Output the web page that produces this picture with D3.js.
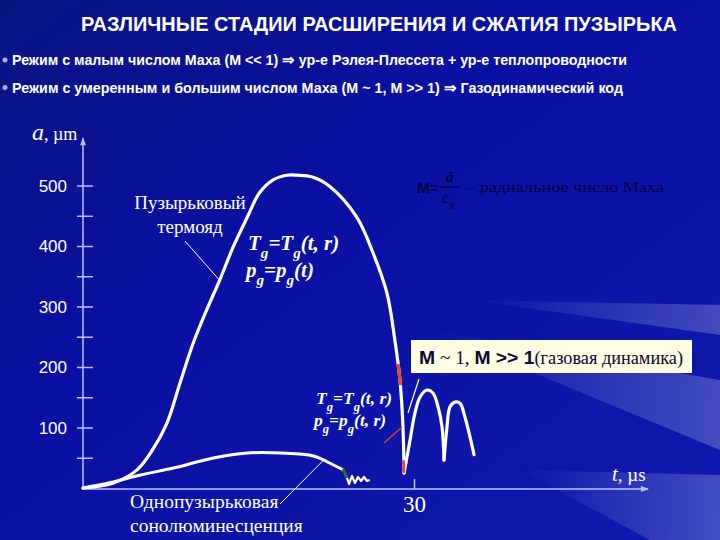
<!DOCTYPE html>
<html><head><meta charset="utf-8">
<script src="https://cdn.jsdelivr.net/npm/d3@7/dist/d3.min.js"></script>
<style>html,body{margin:0;padding:0;background:#0a1196;}svg{display:block;}</style>
</head><body>
<svg id="c" width="720" height="540"></svg>
<script>
// ---------- data ----------
const title = "РАЗЛИЧНЫЕ СТАДИИ РАСШИРЕНИЯ И СЖАТИЯ ПУЗЫРЬКА";
const bullets = [
  "Режим с малым числом Маха (M << 1)  ⇒  ур-е Рэлея-Плессета + ур-е теплопроводности",
  "Режим с умеренным и большим числом Маха (M ~ 1,  M >> 1)  ⇒  Газодинамический код"
];
const yTickValues = [50,100,150,200,250,300,350,400,450,500];
const yTickLabels = [100,200,300,400,500];
const xTickValues = [30];
// big bubble curve (t in µs, a in µm): expansion and collapse
const bigT = [0,2.7,4.9,6.3,7.6,8.8,10.0,11.2,12.4,13.6,14.9,16.0,17.2,18.5,19.4,20.8,22.4,24.8,26.3,27.55,28.3,28.73,29.0,29.1];
const bigA = [0,8,30,63,107,174,240,294,344,398,448,488,509,517,517,514,498,448,388,322,240,178,101,25];
// rebounds after collapse
const reb1T = [29.1,29.64,30.09,30.54,31.18,31.72,32.18,32.54,32.72];
const reb1A = [25,79,124,150,162,157,134,101,46];
const reb2T = [32.72,32.99,33.26,33.72,34.17,34.62,35.08,35.44];
const reb2A = [46,101,134,142,140,117,84,55];
// single-bubble sonoluminescence curve
const smallT = [0,2.5,5.2,8.2,11.8,14.9,17.9,20.9,22.7,23.6];
const smallA = [0,9,21.5,33,49.6,57.9,57.9,52.9,38,29.8];
const greenT = [23.6,23.93];
const greenA = [29.8,16.5];
const wiggleT = [23.93,24.11,24.38,24.65,24.92,25.2,25.47,25.74,26.0];
const wiggleA = [16.5,6.6,19.8,8.3,18.2,11.6,18.2,11.6,13.2];
// red (gas-dynamic) ranges on collapse branch, in µm
const redRanges = [[170,205],[25,46]];

// ---------- setup ----------
const svg = d3.select("#c");
const W = 720, H = 540;
const defs = svg.append("defs");
const bg = defs.append("linearGradient").attr("id","bg").attr("x1","0").attr("y1","0").attr("x2","1").attr("y2","1");
bg.append("stop").attr("offset","0").attr("stop-color","#0a1480");
bg.append("stop").attr("offset","0.4").attr("stop-color","#0a10a2");
bg.append("stop").attr("offset","1").attr("stop-color","#0e1aae");
svg.append("rect").attr("width",W).attr("height",H).attr("fill","url(#bg)");

const ray = defs.append("linearGradient").attr("id","ray").attr("x1","0").attr("y1","0").attr("x2","1").attr("y2","0");
ray.append("stop").attr("offset","0").attr("stop-color","#ffffff").attr("stop-opacity",0);
ray.append("stop").attr("offset","1").attr("stop-color","#ffffff").attr("stop-opacity",0.45);
const rays = [
  [[430,330],[720,380],[720,450]],
  [[470,300],[720,305],[720,335]],
  [[520,470],[720,475],[720,540],[650,540]]
];
svg.selectAll("polygon.ray").data(rays).join("polygon").attr("class","ray")
  .attr("points",d=>d.map(p=>p.join(",")).join(" "))
  .attr("fill","url(#ray)").attr("opacity",0.5);

// title
svg.append("text").attr("x",81).attr("y",30.5).attr("fill","#fff")
  .attr("font-family","Liberation Sans, Arial").attr("font-weight","bold").attr("font-size",19.5)
  .attr("textLength",596).attr("lengthAdjust","spacingAndGlyphs").text(title);

// bullets
const bY = [65,92.5];
bullets.forEach((b,i)=>{
  svg.append("circle").attr("cx",5).attr("cy",bY[i]-5).attr("r",2.5).attr("fill","#9fb0e0");
  svg.append("text").attr("x",12).attr("y",bY[i]).attr("fill","#fff")
    .attr("font-family","Liberation Sans, Arial").attr("font-weight","bold").attr("font-size",14.5)
    .attr("textLength", i===0?615:611).attr("lengthAdjust","spacingAndGlyphs").text(b);
});

// scales
const x = d3.scaleLinear().domain([0,30]).range([83,414]);
const y = d3.scaleLinear().domain([0,500]).range([488,185.5]);
const axisCol = "#b8c0ff";

// y axis
const yAxis = d3.axisLeft(y).tickValues(yTickValues)
  .tickFormat(v => yTickLabels.includes(v) ? v : "").tickSize(6).tickPadding(10);
const gy = svg.append("g").attr("transform",`translate(${x(0)},0)`).call(yAxis);
gy.select(".domain").remove();
gy.selectAll(".tick line").attr("x1",10).attr("x2",-6).attr("stroke",axisCol).attr("stroke-width",1.5);
gy.selectAll(".tick text").attr("fill","#fff").attr("font-family","Liberation Sans, Arial")
  .attr("font-size",17).attr("x",-16).attr("dy","0.35em");
svg.append("line").attr("x1",x(0)).attr("x2",x(0)).attr("y1",y(0)+2).attr("y2",y(578))
  .attr("stroke",axisCol).attr("stroke-width",1.5);
svg.append("path").attr("d",`M${x(0)-3},${y(578)+7} L${x(0)},${y(578)-1} L${x(0)+3},${y(578)+7} Z`).attr("fill",axisCol);

// x axis
const xAxis = d3.axisBottom(x).tickValues(xTickValues).tickSize(-10).tickFormat(d3.format("d"));
const gx = svg.append("g").attr("transform",`translate(0,${y(0)+1})`).call(xAxis);
gx.select(".domain").remove();
gx.selectAll(".tick line").attr("stroke",axisCol).attr("stroke-width",1.5);
gx.selectAll(".tick text").attr("fill","#fff").attr("font-family","Liberation Serif, Times New Roman")
  .attr("font-size",23).attr("y",23).attr("dy",0);
svg.append("line").attr("x1",x(0)).attr("x2",x(51.2)).attr("y1",y(0)+1).attr("y2",y(0)+1)
  .attr("stroke",axisCol).attr("stroke-width",1.5);
svg.append("path").attr("d",`M${x(51.2)-7},${y(0)-2} L${x(51.2)+1},${y(0)+1} L${x(51.2)-7},${y(0)+4} Z`).attr("fill",axisCol);

// axis titles
const at = svg.append("text").attr("x",32).attr("y",140).attr("fill","#fff").attr("font-family","Liberation Serif, Times New Roman");
at.append("tspan").attr("font-style","italic").attr("font-size",24).text("a");
at.append("tspan").attr("font-size",18).text(", µm");
const tt = svg.append("text").attr("x",612).attr("y",481).attr("fill","#fff").attr("font-family","Liberation Serif, Times New Roman");
tt.append("tspan").attr("font-style","italic").attr("font-size",21).text("t");
tt.append("tspan").attr("font-size",19).text(", µs");

// curves
const line = d3.line().x(d=>x(d[0])).y(d=>y(d[1])).curve(d3.curveCatmullRom.alpha(0.5));
const zip = (T,A)=>T.map((t,i)=>[t,A[i]]);
const drawCurve = (T,A,col,w)=>svg.append("path").attr("d",line(zip(T,A))).attr("fill","none")
  .attr("stroke",col).attr("stroke-width",w).attr("stroke-linecap","round").attr("stroke-linejoin","round");

drawCurve(smallT,smallA,"#fff",3);
drawCurve(greenT,greenA,"#2f6b3a",3);
svg.append("path").attr("d",d3.line().x(d=>x(d[0])).y(d=>y(d[1])).curve(d3.curveLinear)(zip(wiggleT,wiggleA)))
  .attr("fill","none").attr("stroke","#fff").attr("stroke-width",2.2).attr("stroke-linejoin","round");
drawCurve(bigT,bigA,"#fff",3.2);
drawCurve(reb1T,reb1A,"#fff",3.2);
drawCurve(reb2T,reb2A,"#fff",3.2);

// red overlays on collapse branch via clip
redRanges.forEach((r,i)=>{
  const cp = defs.append("clipPath").attr("id","rc"+i);
  cp.append("rect").attr("x",x(27)).attr("width",x(29.2)-x(27)).attr("y",y(r[1])).attr("height",y(r[0])-y(r[1]));
  svg.append("path").attr("d",line(zip(bigT,bigA))).attr("fill","none").attr("stroke","#e8452a")
    .attr("stroke-width",3.2).attr("clip-path",`url(#rc${i})`);
});

// annotations
const serif = "Liberation Serif, Times New Roman";
function label(lines, xx, yy, size, anchor){
  lines.forEach((s,i)=>svg.append("text").attr("x",xx).attr("y",yy+i*23.5).attr("fill","#fff")
    .attr("font-family",serif).attr("font-size",size).attr("text-anchor",anchor).text(s));
}
label(["Пузырьковый","термояд"],190,209,19,"middle");
svg.append("line").attr("x1",185).attr("y1",241).attr("x2",x(12.35)).attr("y2",y(344)).attr("stroke","#fff").attr("stroke-width",1);
label(["Однопузырьковая","сонолюминесценция"],130,508,19.5,"start");
svg.append("line").attr("x1",280).attr("y1",504).attr("x2",x(21.8)).attr("y2",y(46)).attr("stroke","#fff").attr("stroke-width",1);

function formula(xx, yy, size, second){
  const t = svg.append("text").attr("x",xx).attr("y",yy).attr("fill","#fff").attr("font-family",serif)
    .attr("font-style","italic").attr("font-weight","bold").attr("font-size",size);
  const sub = (s)=>t.append("tspan").attr("font-size",size*0.72).attr("dy",size*0.4).text(s);
  const up = (s)=>t.append("tspan").attr("dy",-size*0.4).text(s);
  t.append("tspan").text("T"); sub("g"); up("=T"); sub("g"); up("(t, r)");
  const p = svg.append("text").attr("x",xx-2).attr("y",yy+size*1.27).attr("fill","#fff").attr("font-family",serif)
    .attr("font-style","italic").attr("font-weight","bold").attr("font-size",size);
  const sub2 = (s)=>p.append("tspan").attr("font-size",size*0.72).attr("dy",size*0.4).text(s);
  const up2 = (s)=>p.append("tspan").attr("dy",-size*0.4).text(s);
  p.append("tspan").text("p"); sub2("g"); up2("=p"); sub2("g"); up2(second);
}
formula(248,250,21,"(t)");
formula(316,404,17.5,"(t, r)");

// pointer lines near collapse
svg.append("line").attr("x1",384).attr("y1",443).attr("x2",402).attr("y2",427).attr("stroke","#e0452a").attr("stroke-width",1.4);
svg.append("line").attr("x1",408).attr("y1",413).attr("x2",419).attr("y2",379).attr("stroke","#fff").attr("stroke-width",1.2);

// box
svg.append("rect").attr("x",411).attr("y",340).attr("width",281).attr("height",33).attr("fill","#fffde4");
const bt = svg.append("text").attr("x",419).attr("y",363.5).attr("fill","#0a0a30").attr("font-size",19)
  .attr("textLength",264).attr("lengthAdjust","spacingAndGlyphs");
bt.append("tspan").attr("font-family","Liberation Sans, Arial").attr("font-weight","bold").text("M");
bt.append("tspan").attr("font-family",serif).text(" ~ 1, ");
bt.append("tspan").attr("font-family","Liberation Sans, Arial").attr("font-weight","bold").text("M >> 1");
bt.append("tspan").attr("font-family",serif).attr("font-size",18).text("(газовая динамика)");

// faint Mach definition (dark text, low contrast as in the reference)
const dk = "#020240";
svg.append("text").attr("x",417).attr("y",193).attr("fill",dk).attr("font-family","Liberation Sans, Arial")
  .attr("font-weight","bold").attr("font-size",15).text("M=");
svg.append("text").attr("x",446).attr("y",182).attr("fill",dk).attr("font-family",serif).attr("font-style","italic").attr("font-weight","bold").attr("font-size",15).text("ȧ");
svg.append("line").attr("x1",439).attr("x2",460).attr("y1",187).attr("y2",187).attr("stroke",dk).attr("stroke-width",1.2);
const cg = svg.append("text").attr("x",442).attr("y",203).attr("fill",dk).attr("font-family",serif).attr("font-style","italic").attr("font-size",16);
cg.append("tspan").text("c"); cg.append("tspan").attr("font-size",11).attr("dy",4).text("g");
svg.append("text").attr("x",466).attr("y",192).attr("fill",dk).attr("font-family",serif).attr("font-size",15)
  .attr("textLength",198).attr("lengthAdjust","spacingAndGlyphs").text("– радиальное  число Маха");
</script>
</body></html>
